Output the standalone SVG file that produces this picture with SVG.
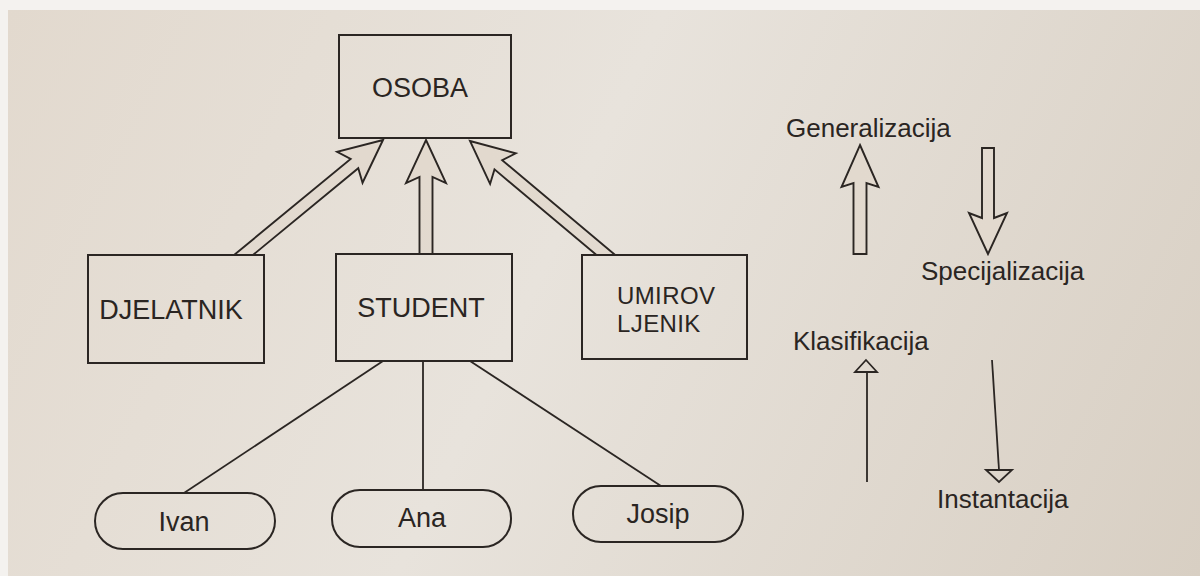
<svg xmlns="http://www.w3.org/2000/svg" width="1200" height="576" viewBox="0 0 1200 576">
<defs>
<linearGradient id="paper" gradientUnits="userSpaceOnUse" x1="8" y1="10" x2="1200" y2="576">
<stop offset="0" stop-color="#e2d9ce"/>
<stop offset="0.45" stop-color="#e8e3dc"/>
<stop offset="1" stop-color="#d8cfc3"/>
</linearGradient>
</defs>
<style>
.box{fill:url(#paper);stroke:#2b2623;stroke-width:2}
.pill{fill:url(#paper);stroke:#2b2623;stroke-width:2}
.hollow{fill:url(#paper);stroke:#2b2623;stroke-width:1.9;stroke-linejoin:miter}
.ln{fill:none;stroke:#2b2623;stroke-width:1.8}
.tri{fill:url(#paper);stroke:#2b2623;stroke-width:1.8;stroke-linejoin:miter}
text{font-family:"Liberation Sans",Arial,sans-serif;fill:#2a2522}
.lbl{font-size:27px;text-anchor:middle}
.side{font-size:26px}
.two{font-size:24px;letter-spacing:0.4px}
</style>
<rect x="0" y="0" width="1200" height="576" fill="#f4f2ef"/>
<rect x="8" y="10" width="1192" height="566" fill="url(#paper)"/>

<g id="connectors">
<polygon class="hollow" transform="translate(383,140) rotate(50.5)" points="0,0 20,43 6,37 6,190 -6,190 -6,37 -20,43"/>
<polygon class="hollow" transform="translate(426,140)" points="0,0 20,43 6.5,37 6.5,118 -6.5,118 -6.5,37 -20,43"/>
<polygon class="hollow" transform="translate(470,141) rotate(-50)" points="0,0 20,43 6,37 6,190 -6,190 -6,37 -20,43"/>
<line class="ln" x1="383" y1="361" x2="184" y2="493"/>
<line class="ln" x1="423" y1="361" x2="423" y2="490"/>
<line class="ln" x1="470" y1="361" x2="661" y2="486"/>
</g>

<g id="osoba">
<rect class="box" x="339" y="35" width="172" height="103"/>
<text class="lbl" x="420" y="97">OSOBA</text>
</g>
<g id="djelatnik">
<rect class="box" x="88" y="255" width="176" height="108"/>
<text class="lbl" x="171" y="319">DJELATNIK</text>
</g>
<g id="student">
<rect class="box" x="336" y="254" width="176" height="107"/>
<text class="lbl" x="421" y="317">STUDENT</text>
</g>
<g id="umirovljenik">
<rect class="box" x="582" y="255" width="165" height="104"/>
<text class="two" x="617" y="304">UMIROV</text>
<text class="two" x="617" y="332">LJENIK</text>
</g>
<g id="ivan">
<rect class="pill" x="95" y="493" width="180" height="56" rx="28" ry="28"/>
<text class="lbl" x="184" y="531">Ivan</text>
</g>
<g id="ana">
<rect class="pill" x="332" y="490" width="179" height="57" rx="28" ry="28"/>
<text class="lbl" x="422" y="527">Ana</text>
</g>
<g id="josip">
<rect class="pill" x="573" y="486" width="170" height="56" rx="28" ry="28"/>
<text class="lbl" x="658" y="523">Josip</text>
</g>

<g id="legend">
<text class="side" x="786" y="137">Generalizacija</text>
<polygon class="hollow" transform="translate(860,145)" points="0,0 18.5,42 6.5,38 6.5,109 -6.5,109 -6.5,38 -18.5,42"/>
<polygon class="hollow" transform="translate(988,254) rotate(180)" points="0,0 19,41 6,36 6,106 -6,106 -6,36 -19,41"/>
<text class="side" x="921" y="280">Specijalizacija</text>
<text class="side" x="793" y="350">Klasifikacija</text>
<line class="ln" x1="867" y1="372" x2="867" y2="482"/>
<polygon class="tri" points="866,360 877,372 855,372"/>
<line class="ln" x1="992" y1="360" x2="999" y2="470"/>
<polygon class="tri" points="986,470 1012,470 999,482"/>
<text class="side" x="937" y="508">Instantacija</text>
</g>
</svg>
